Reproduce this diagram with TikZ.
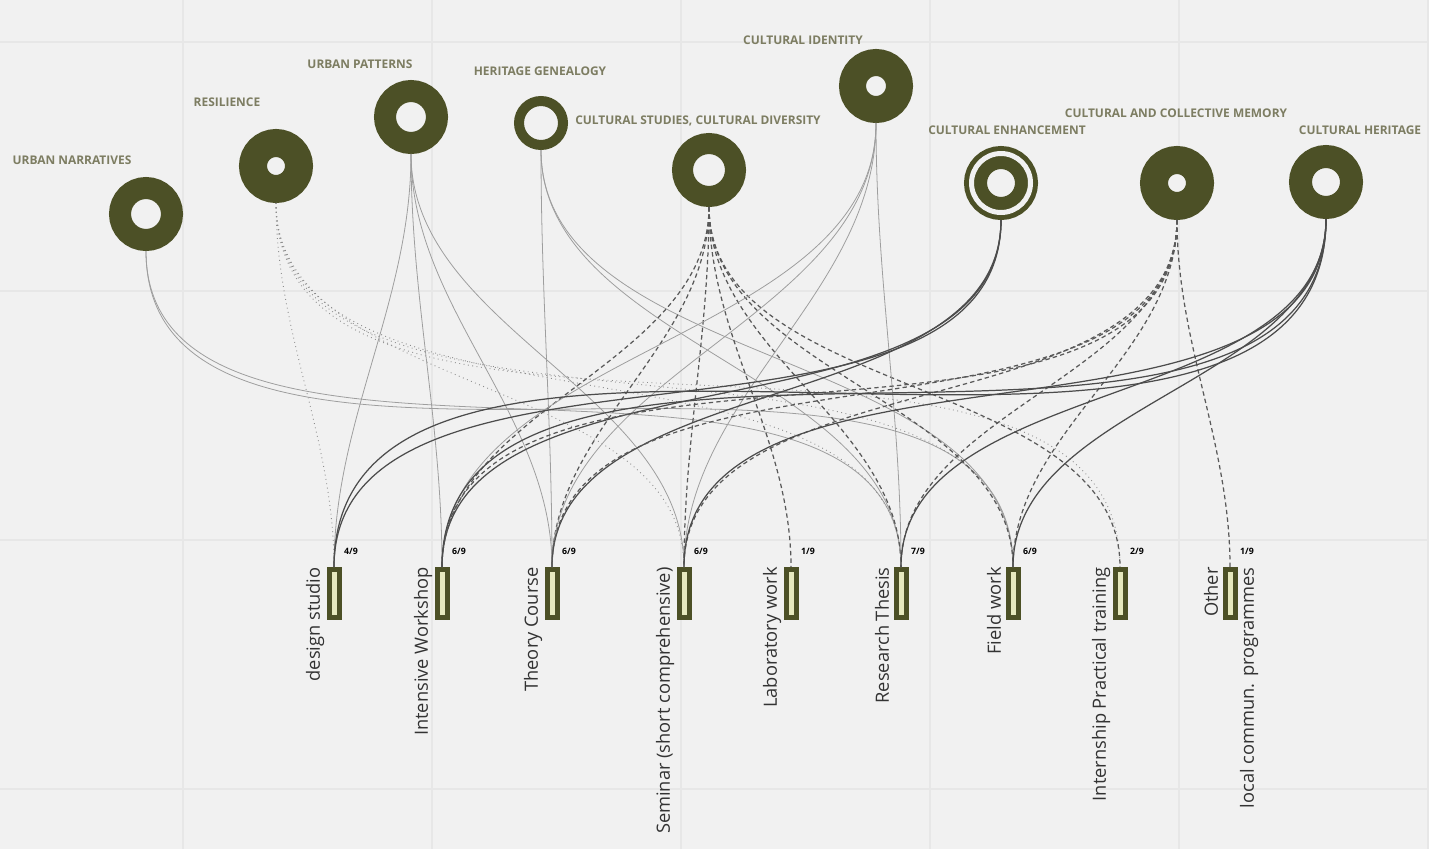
\documentclass[tikz,border=0pt]{standalone}
\usepackage{fontspec}
\setmainfont{Open Sans}
\usetikzlibrary{calc}

\definecolor{paper}{RGB}{241,241,241}
\definecolor{gridline}{RGB}{231,231,231}
\definecolor{topicgreen}{RGB}{76,80,38}
\definecolor{barlight}{RGB}{230,232,190}
\definecolor{topictext}{RGB}{125,125,98}

\begin{document}
\begin{tikzpicture}[x=0.02cm, y=-0.02cm,
  topic/.style={circle, draw=topicgreen, fill=paper, inner sep=0pt},
  toplabel/.style={text=topictext, font=\fontsize{6.8}{7}\selectfont\bfseries, inner sep=0pt},
  bar/.style={rectangle, draw=topicgreen, fill=barlight, line width=0.1cm, minimum width=0.2cm, minimum height=0.96cm, inner sep=0pt},
  actlabel/.style={rotate=90, anchor=east, font=\fontsize{10.4}{12}\selectfont, text=black!80, inner sep=0pt},
  frac/.style={font=\fontsize{5}{6}\selectfont\bfseries, inner sep=0pt},
  link/.style={out=270, in=90, looseness=0.9},
  thinlink/.style={draw=black!38, line width=0.45pt},
  dotlink/.style={draw=black!45, line width=0.5pt, dotted},
  dashlink/.style={draw=black!65, line width=0.7pt, dash pattern=on 2.5pt off 1.8pt},
  darklink/.style={draw=black!70, line width=0.7pt}]

\fill[paper] (0,0) rectangle (1429,849);
\useasboundingbox (0,0) rectangle (1429,849);
\foreach \gx in {183,432,681,930,1179,1428}
  \draw[gridline, line width=0.8pt] (\gx,0) -- (\gx,849);
\foreach \gy in {42,291,540,789}
  \draw[gridline, line width=0.8pt] (0,\gy) -- (1429,\gy);

% topics
\node[topic, line width=0.44cm, minimum size=1.04cm] at (146,214) (UN) {};
\node[topic, line width=0.56cm, minimum size=0.92cm] at (276,166) (RE) {};
\node[topic, line width=0.44cm, minimum size=1.04cm] at (411,117) (UP) {};
\node[topic, line width=0.2cm, minimum size=0.88cm] at (541,123) (HG) {};
\node[topic, line width=0.42cm, minimum size=1.06cm] at (709,170) (CS) {};
\node[topic, line width=0.54cm, minimum size=0.94cm] at (876,86) (CI) {};
\node[topic, line width=0.46cm, minimum size=1.02cm] at (1001,183) (CE) {};
\draw[paper, line width=0.1cm] (CE) circle[radius=0.59cm];
\node[topic, line width=0.56cm, minimum size=0.92cm] at (1177,183) (CM) {};
\node[topic, line width=0.46cm, minimum size=1.02cm] at (1326,182) (CH) {};

\node[toplabel] at (72,160) (UNlabel) {URBAN NARRATIVES};
\node[toplabel] at (227,102) (RElabel) {RESILIENCE};
\node[toplabel] at (360,64) (UPlabel) {URBAN PATTERNS};
\node[toplabel] at (540,71) (HGlabel) {HERITAGE GENEALOGY};
\node[toplabel] at (698,121) (CSlabel) {CULTURAL STUDIES, CULTURAL DIVERSITY};
\node[toplabel] at (803,40) (CIlabel) {CULTURAL IDENTITY};
\node[toplabel] at (1007,130) (CElabel) {CULTURAL ENHANCEMENT};
\node[toplabel] at (1176,113) (CMlabel) {CULTURAL AND COLLECTIVE MEMORY};
\node[toplabel] at (1360,130) (CHlabel) {CULTURAL HERITAGE};

% activities
\node[bar] at (334,593.5) (DS) {};
\node[bar] at (442,593.5) (IW) {};
\node[bar] at (552,593.5) (TC) {};
\node[bar] at (684,593.5) (SE) {};
\node[bar] at (791,593.5) (LW) {};
\node[bar] at (901,593.5) (RT) {};
\node[bar] at (1013,593.5) (FW) {};
\node[bar] at (1120,593.5) (IP) {};
\node[bar] at (1230,593.5) (OT) {};

\node[actlabel] at ($(DS.north)+(-19,0)$) (DSlabel) {design studio};
\node[actlabel] at ($(IW.north)+(-19,0)$) (IWlabel) {Intensive Workshop};
\node[actlabel] at ($(TC.north)+(-19,0)$) (TClabel) {Theory Course};
\node[actlabel] at ($(SE.north)+(-19,0)$) (SElabel) {Seminar (short comprehensive)};
\node[actlabel] at ($(LW.north)+(-19,0)$) (LWlabel) {Laboratory work};
\node[actlabel] at ($(RT.north)+(-19,0)$) (RTlabel) {Research Thesis};
\node[actlabel] at ($(FW.north)+(-19,0)$) (FWlabel) {Field work};
\node[actlabel] at ($(IP.north)+(-19,0)$) (IPlabel) {Internship Practical training};
\node[actlabel] at ($(OT.north)+(-19,0)$) (OTlabel) {Other};
\node[actlabel] at ($(OT.north)+(19,0)$) (OTlabelb) {local commun. programmes};

\node[frac] at ($(DS.north)+(17,-16)$) (DSn) {4/9};
\node[frac] at ($(IW.north)+(17,-16)$) (IWn) {6/9};
\node[frac] at ($(TC.north)+(17,-16)$) (TCn) {6/9};
\node[frac] at ($(SE.north)+(17,-16)$) (SEn) {6/9};
\node[frac] at ($(LW.north)+(17,-16)$) (LWn) {1/9};
\node[frac] at ($(RT.north)+(17,-16)$) (RTn) {7/9};
\node[frac] at ($(FW.north)+(17,-16)$) (FWn) {6/9};
\node[frac] at ($(IP.north)+(17,-16)$) (IPn) {2/9};
\node[frac] at ($(OT.north)+(17,-16)$) (OTn) {1/9};

% links
\draw[thinlink] (UN.south) to[link] (RT.north);
\draw[thinlink] (UN.south) to[link] (FW.north);

\draw[dotlink] (RE.south) to[link] (DS.north);
\draw[dotlink] (RE.south) to[link] (SE.north);
\draw[dotlink] (RE.south) to[link] (RT.north);
\draw[dotlink] (RE.south) to[link] (FW.north);
\draw[dotlink] (RE.south) to[link] (IP.north);

\draw[thinlink] (UP.south) to[link] (DS.north);
\draw[thinlink] (UP.south) to[link] (IW.north);
\draw[thinlink] (UP.south) to[link] (TC.north);
\draw[thinlink] (UP.south) to[link] (SE.north);

\draw[thinlink] (HG.south) to[link] (TC.north);
\draw[thinlink] (HG.south) to[link] (RT.north);
\draw[thinlink] (HG.south) to[link] (FW.north);

\draw[dashlink] (CS.south) to[link] (IW.north);
\draw[dashlink] (CS.south) to[link] (TC.north);
\draw[dashlink] (CS.south) to[link] (SE.north);
\draw[dashlink] (CS.south) to[link] (LW.north);
\draw[dashlink] (CS.south) to[link] (RT.north);
\draw[dashlink] (CS.south) to[link] (FW.north);
\draw[dashlink] (CS.south) to[link] (IP.north);

\draw[thinlink] (CI.south) to[link] (IW.north);
\draw[thinlink] (CI.south) to[link] (TC.north);
\draw[thinlink] (CI.south) to[link] (SE.north);
\draw[thinlink] (CI.south) to[link] (RT.north);

\draw[darklink] (CE.south) to[link] (DS.north);
\draw[darklink] (CE.south) to[link] (IW.north);
\draw[darklink] (CE.south) to[link] (TC.north);

\draw[dashlink] (CM.south) to[link] (IW.north);
\draw[dashlink] (CM.south) to[link] (TC.north);
\draw[dashlink] (CM.south) to[link] (SE.north);
\draw[dashlink] (CM.south) to[link] (RT.north);
\draw[dashlink] (CM.south) to[link] (FW.north);
\draw[dashlink] (CM.south) to[link] (OT.north);

\draw[darklink] (CH.south) to[link] (DS.north);
\draw[darklink] (CH.south) to[link] (IW.north);
\draw[darklink] (CH.south) to[link] (SE.north);
\draw[darklink] (CH.south) to[link] (RT.north);
\draw[darklink] (CH.south) to[link] (FW.north);

\end{tikzpicture}
\end{document}
